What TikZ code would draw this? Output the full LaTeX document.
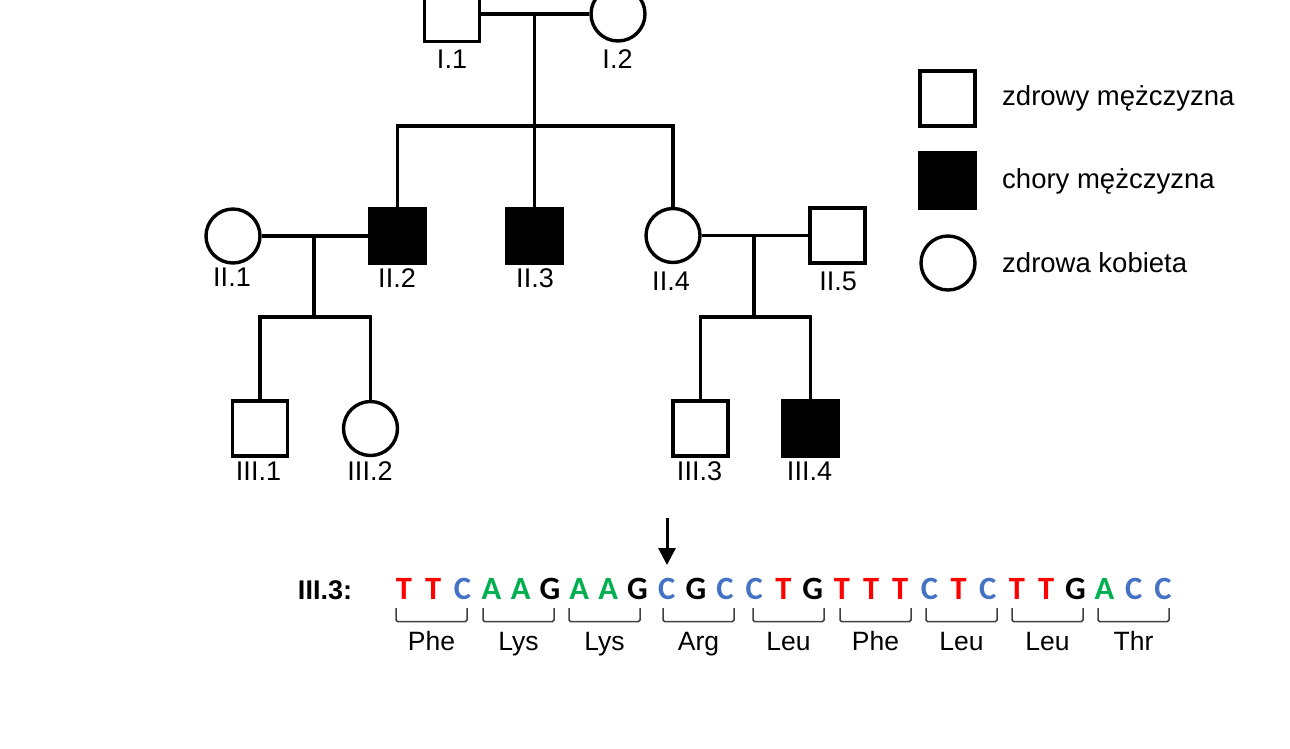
\documentclass[tikz,border=0pt]{standalone}
\usepackage{fontspec}
\setmainfont{Liberation Sans}
\newfontfamily\seqfont{Carlito}
\usetikzlibrary{arrows.meta}
\definecolor{colT}{HTML}{FF0000}
\definecolor{colC}{HTML}{4472C4}
\definecolor{colA}{HTML}{00B050}
\definecolor{colG}{HTML}{000000}
\definecolor{brk}{HTML}{404040}
\tikzset{
  pedline/.style={line width=3.4pt, line join=miter},
  male/.style={draw, rectangle, line width=3.4pt, minimum size=55pt, inner sep=0pt, fill=white},
  affected/.style={male, fill=black},
  female/.style={draw, circle, line width=3.4pt, minimum size=54pt, inner sep=0pt, fill=white},
  idlabel/.style={anchor=base, inner sep=0pt, font=\fontsize{27}{30}\selectfont},
  legtext/.style={anchor=base west, inner sep=0pt, font=\fontsize{27.5}{31}\selectfont},
  nucl/.style={anchor=base, inner sep=0pt, font=\seqfont\bfseries\fontsize{32.5}{36}\selectfont},
  bracketline/.style={draw=brk, line width=1.5pt, rounded corners=1.5pt},
  aalabel/.style={anchor=base, inner sep=0pt, font=\fontsize{26.5}{30}\selectfont},
}
\begin{document}
\begin{tikzpicture}[x=1pt,y=-1pt]
\useasboundingbox (0,0) rectangle (1290,748);

% ---------- generation I ----------
\node[male]   (I1) at (452,14) {};
\node[female] (I2) at (618,14) {};
\node[idlabel] (lI1) at (452,68.7) {I.1};
\node[idlabel] (lI2) at (617.5,68.7) {I.2};

% ---------- generation II ----------
\node[female]   (II1) at (233,236) {};
\node[affected] (II2) at (397.5,236) {};
\node[affected] (II3) at (534.5,236) {};
\node[female]   (II4) at (673,235.5) {};
\node[male]     (II5) at (837.5,235.5) {};
\node[idlabel] (lII1) at (232,286) {II.1};
\node[idlabel] (lII2) at (397,287) {II.2};
\node[idlabel] (lII3) at (535,287) {II.3};
\node[idlabel] (lII4) at (671,290) {II.4};
\node[idlabel] (lII5) at (838,290) {II.5};

% ---------- generation III ----------
\node[male]     (III1) at (260,428.5) {};
\node[female]   (III2) at (370.5,428.5) {};
\node[male]     (III3) at (700.5,428.5) {};
\node[affected] (III4) at (810.5,428.5) {};
\node[idlabel] (lIII1) at (258.5,480) {III.1};
\node[idlabel] (lIII2) at (370,480) {III.2};
\node[idlabel] (lIII3) at (699.5,480) {III.3};
\node[idlabel] (lIII4) at (809.5,480) {III.4};

% ---------- junction coordinates ----------
\coordinate (m1) at (534.5,14);
\coordinate (s1) at (534.5,126);
\coordinate (m2) at (314,236);
\coordinate (s2) at (314,317);
\coordinate (m3) at (754,235.5);
\coordinate (s3) at (754,317);

% ---------- connectors ----------
\draw[pedline] (I1.east) -- (I2.west);
\draw[pedline] (m1) -- (II3.north);
\draw[pedline] (II2.north) |- (s1) -| (II4.north);

\draw[pedline] (II1.east) -- (II2.west);
\draw[pedline] (m2) -- (s2);
\draw[pedline] (III1.north) |- (s2) -| (III2.north);

\draw[pedline] (II4.east) -- (II5.west);
\draw[pedline] (m3) -- (s3);
\draw[pedline] (III3.north) |- (s3) -| (III4.north);

% ---------- legend ----------
\node[male]     (L1) at (947.5,98.5) {};
\node[affected] (L2) at (947.5,180.5) {};
\node[female]   (L3) at (948,263) {};
\node[legtext] (tL1) at (1002,105) {zdrowy mężczyzna};
\node[legtext] (tL2) at (1002,188) {chory mężczyzna};
\node[legtext] (tL3) at (1002,272) {zdrowa kobieta};

% ---------- sequence ----------
\node[anchor=base, inner sep=0pt, font=\bfseries\fontsize{27}{30}\selectfont] (seqlabel) at (325,599) {III.3:};
\foreach \L [count=\i from 0] in {T,T,C,A,A,G,A,A,G,C,G,C,C,T,G,T,T,T,C,T,C,T,T,G,A,C,C}{
  \node[nucl, text=col\L] (n\i) at ({404+29.19*\i},599) {\L};
}

\coordinate (arrS) at (667,518);
\coordinate (arrE) at (667,565);
\draw[line width=3pt, -{Triangle[length=17pt,width=17pt]}] (arrS) -- (arrE);

\foreach \xl/\aa [count=\k] in {396/Phe,483/Lys,569/Lys,663/Arg,753/Leu,840/Phe,926/Leu,1012/Leu,1098/Thr}{
  \draw[bracketline] (\xl,608) -- (\xl,621.5) -- ({\xl+71},621.5) -- ({\xl+71},608);
  \node[aalabel] (aa\k) at ({\xl+35.5},650) {\aa};
}
\end{tikzpicture}
\end{document}
